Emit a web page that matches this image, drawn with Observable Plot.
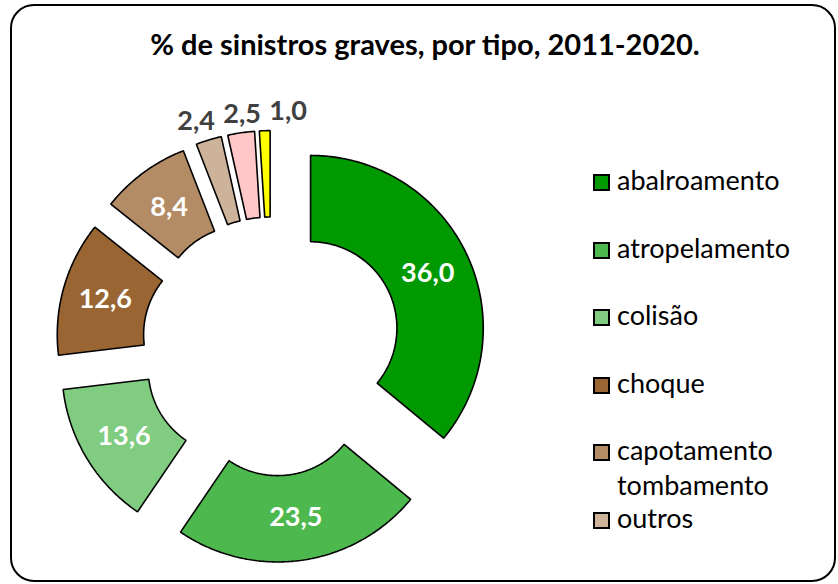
<!DOCTYPE html>
<html>
<head>
<meta charset="utf-8">
<script src="https://cdn.jsdelivr.net/npm/d3@7"></script>
<script src="https://cdn.jsdelivr.net/npm/@observablehq/plot@0.6"></script>
<style>
  html, body { margin: 0; padding: 0; background: #fff; }
  #page { position: relative; width: 838px; height: 584px; overflow: hidden; font-family: Lato, "Open Sans", sans-serif; }
  #frame { position: absolute; left: 10px; top: 4px; width: 826px; height: 578px; border: 2.5px solid #000; border-radius: 24px; box-sizing: border-box; }
  #title { position: absolute; left: 0; width: 850px; top: 26px; text-align: center; font-weight: bold; font-size: 29px; line-height: normal; color: #000; white-space: nowrap; }
  #chart { position: absolute; left: 0; top: 80px; }
  #legend { position: absolute; left: 593px; top: 162px; }
  .item { position: absolute; left: 0; width: 240px; font-size: 27px; line-height: 35px; color: #000; }
  .sw { position: absolute; left: 0; top: 12px; width: 17px; height: 17px; border: 2px solid #000; box-sizing: border-box; }
  .lt { position: absolute; left: 24px; width: 215px; }
</style>
</head>
<body>
<div id="page">
  <div id="frame"></div>
  <div id="title"></div>
  <div id="chart"></div>
  <div id="legend"></div>
</div>
<script>
// ---- data ----
const title = "% de sinistros graves, por tipo, 2011-2020.";
const categories = ["abalroamento", "atropelamento", "colisão", "choque", "capotamento tombamento", "outros", "", ""];
const values = [36.0, 23.5, 13.6, 12.6, 8.4, 2.4, 2.5, 1.0];
const colors = ["#009900", "#4db84d", "#80cc80", "#996633", "#b38c66", "#ccb399", "#ffc7c7", "#ffff00"];
const legendCount = 6; // legend entries visible in the reference

// ---- layout ----
const K = 172.7;            // px per unit of outer radius
const W = 580, H = 500;     // svg size
const CX = 271, CY = 266;   // donut centre inside svg (px)
const rIn = 0.5, rOut = 1.0, explode = 0.25;

const keys = values.map((_, i) => "s" + i);
const arcs = d3.pie().sort(null).value(d => d)(values);

const pts = [];
arcs.forEach((a, i) => {
  const mid = (a.startAngle + a.endAngle) / 2;
  const ox = explode * Math.sin(mid), oy = explode * Math.cos(mid);
  const n = Math.max(4, Math.ceil((a.endAngle - a.startAngle) / 0.01));
  for (let k = 0; k <= n; k++) {
    const t = a.startAngle + (a.endAngle - a.startAngle) * k / n;
    pts.push({key: keys[i], x: ox + rOut * Math.sin(t), y: oy + rOut * Math.cos(t)});
  }
  for (let k = n; k >= 0; k--) {
    const t = a.startAngle + (a.endAngle - a.startAngle) * k / n;
    pts.push({key: keys[i], x: ox + rIn * Math.sin(t), y: oy + rIn * Math.cos(t)});
  }
});

const fmt = v => v.toFixed(1).replace(".", ",");
const inside = [], outside = [];
arcs.forEach((a, i) => {
  const mid = (a.startAngle + a.endAngle) / 2;
  if (values[i] >= 5) {
    const rr = (rIn + rOut) / 2 + explode;
    inside.push({x: rr * Math.sin(mid), y: rr * Math.cos(mid), text: fmt(values[i])});
  } else {
    const rr = rOut + explode + 0.11;
    outside.push({x: rr * Math.sin(mid), y: rr * Math.cos(mid), text: fmt(values[i])});
  }
});
// spread outside labels horizontally so they don't overlap
outside.sort((a, b) => a.x - b.x);
const gap = 46 / K;
const sym = outside.map(o => o.x);
for (let it = 0; it < 300; it++) {
  for (let i = 1; i < sym.length; i++) {
    const d = sym[i] - sym[i - 1];
    if (d < gap) { const p = (gap - d) / 2; sym[i] += p; sym[i - 1] -= p; }
  }
}
const sweep = outside.map(o => o.x);
for (let i = 1; i < sweep.length; i++) sweep[i] = Math.max(sweep[i], sweep[i - 1] + gap);
outside.forEach((o, i) => { o.x = (sym[i] + sweep[i]) / 2; });

const chart = Plot.plot({
  width: W, height: H, margin: 0,
  x: {domain: [-CX / K, (W - CX) / K], axis: null},
  y: {domain: [-(H - CY) / K, CY / K], axis: null},
  color: {domain: keys, range: colors},
  style: {background: "transparent", overflow: "visible"},
  marks: [
    Plot.line(pts, {x: "x", y: "y", z: "key", fill: "key", stroke: "#000", strokeWidth: 1.6,
      strokeLinejoin: "miter", curve: "linear-closed"}),
    Plot.text(inside, {x: "x", y: "y", text: "text", fill: "#ffffff", fontSize: 27, fontWeight: "bold", fontFamily: "Lato"}),
    Plot.text(outside, {x: "x", y: "y", text: "text", fill: "#404040", fontSize: 27, fontWeight: "bold", fontFamily: "Lato"})
  ]
});
document.getElementById("chart").appendChild(chart);
document.getElementById("title").textContent = title;

const legend = document.getElementById("legend");
categories.slice(0, legendCount).forEach((c, i) => {
  const it = document.createElement("div");
  it.className = "item";
  it.style.top = (i * 67.6) + "px";
  const sw = document.createElement("div");
  sw.className = "sw";
  sw.style.background = colors[i];
  const lt = document.createElement("div");
  lt.className = "lt";
  lt.textContent = c;
  it.appendChild(sw); it.appendChild(lt);
  legend.appendChild(it);
});
</script>
</body>
</html>
